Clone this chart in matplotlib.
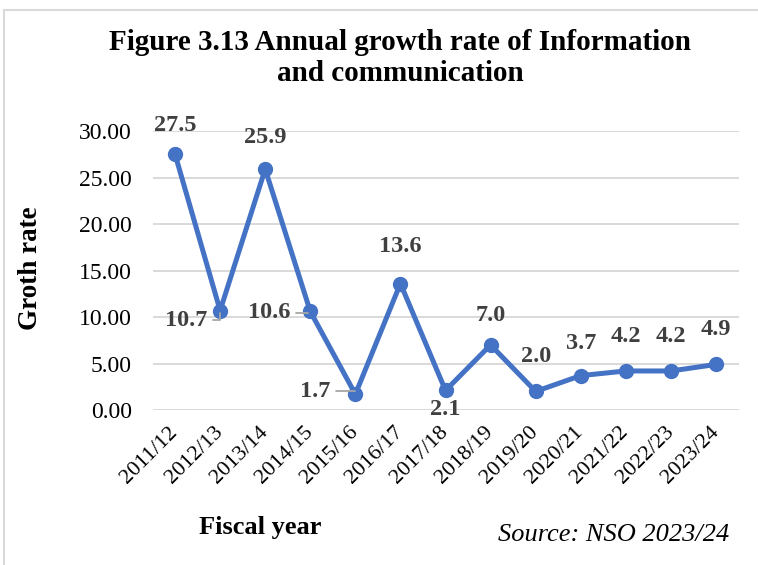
import matplotlib.pyplot as plt
from matplotlib.lines import Line2D

# Annual growth rate of Information and communication, by fiscal year
years = ['2011/12', '2012/13', '2013/14', '2014/15', '2015/16', '2016/17', '2017/18',
         '2018/19', '2019/20', '2020/21', '2021/22', '2022/23', '2023/24']
growth = [27.5, 10.7, 25.9, 10.6, 1.7, 13.6, 2.1, 7.0, 2.0, 3.7, 4.2, 4.2, 4.9]
y_ticks = [0, 5, 10, 15, 20, 25, 30]

# label offsets in points (dx, dy) and whether a leader line is drawn
label_offsets = [(0, 21), (-9, -7), (0, 23), (-14, -1), (-18, 2), (0, 27), (0, -14),
                 (0, 21), (0, 25), (0, 23), (0, 25), (0, 25), (0, 25)]
leaders = [False, True, False, True, True, False, False,
           False, False, False, False, False, False]

plt.rcParams['font.family'] = ['Liberation Serif', 'DejaVu Serif']

fig = plt.figure(figsize=(7.58, 5.65), dpi=100)
ax = fig.add_axes([0.2012, 0.2743, 0.7731, 0.4938])

x = list(range(len(years)))
ax.plot(x, growth, color='#4472C4', linewidth=3.6, marker='o', markersize=10,
        solid_capstyle='round', clip_on=False, zorder=3)

ax.set_xlim(-0.5, len(years) - 0.5)
ax.set_ylim(0, 30)
ax.set_yticks(y_ticks)
ax.set_yticklabels([f'{v:.2f}' for v in y_ticks], fontsize=17)
ax.set_xticks(x)
ax.set_xticklabels(years, fontsize=16, rotation=45, ha='right', va='center',
                   rotation_mode='anchor')
ax.tick_params(axis='both', length=0)
ax.tick_params(axis='y', pad=15)
ax.tick_params(axis='x', pad=14)
ax.grid(axis='y', color='#d9d9d9', linewidth=1.4)
ax.set_axisbelow(True)
for s in ax.spines.values():
    s.set_visible(False)

for xi, v, (dx, dy), lead in zip(x, growth, label_offsets, leaders):
    if lead:
        ax.annotate(f'{v:.1f}', xy=(xi, v), xytext=(dx, dy), textcoords='offset points',
                    ha='right', va='center', fontsize=17.5, fontweight='bold',
                    color='#404040', annotation_clip=False,
                    arrowprops=dict(arrowstyle='-', color='#a6a6a6', lw=1.3,
                                    connectionstyle='angle,angleA=0,angleB=90,rad=0',
                                    shrinkA=2, shrinkB=2))
    else:
        ax.annotate(f'{v:.1f}', xy=(xi, v), xytext=(dx, dy), textcoords='offset points',
                    ha='center', va='center', fontsize=17.5, fontweight='bold',
                    color='#404040', annotation_clip=False)

fig.text(0.528, 0.897, 'Figure 3.13 Annual growth rate of Information\nand communication',
         ha='center', va='center', fontsize=21, fontweight='bold', linespacing=1.2)
fig.text(0.040, 0.526, 'Groth rate', rotation=90, ha='center', va='center',
         fontsize=19.5, fontweight='bold')
fig.text(0.343, 0.067, 'Fiscal year', ha='center', va='center',
         fontsize=19, fontweight='bold')
fig.text(0.809, 0.053, 'Source: NSO 2023/24', ha='center', va='center',
         fontsize=19, style='italic')

# light frame along the top and left edges
fig.add_artist(Line2D([0.005, 1.0], [0.982, 0.982], color='#d9d9d9', linewidth=1.5,
                      transform=fig.transFigure))
fig.add_artist(Line2D([0.005, 0.005], [0.0, 0.982], color='#d9d9d9', linewidth=1.5,
                      transform=fig.transFigure))

fig.savefig('out.png', dpi=100)
